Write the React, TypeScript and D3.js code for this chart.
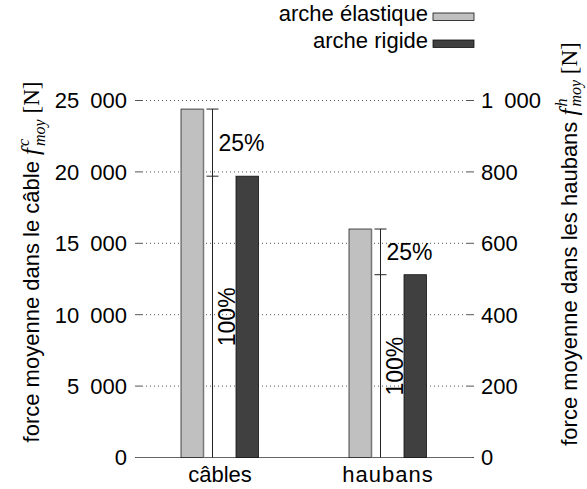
import { useMemo } from 'react';
import * as d3 from 'd3';

const categories = ['câbles', 'haubans'];
const seriesNames = ['arche élastique', 'arche rigide'];
const seriesColors = ['#c0c0c0', '#404040'];
// câbles on the left axis, haubans on the right axis (both in N)
const elasticValues = [24400, 640];
const rigidValues = [19700, 512];
const leftTicks = [0, 5000, 10000, 15000, 20000, 25000];
const rightTicks = [0, 200, 400, 600, 800, 1000];
const gapLabel = '25%';
const baseLabel = '100%';

const W = 587;
const H = 489;
const plot = { left: 136, right: 472, top: 100.5, bottom: 457.5 };
const sans = '"Liberation Sans", Arial, sans-serif';
const serif = '"Liberation Serif", "DejaVu Serif", serif';

const fmt = d3.formatLocale({ decimal: '.', thousands: '\u2002', grouping: [3], currency: ['', ''] }).format(',d');

const App = () => {
  const x = useMemo(() => d3.scaleBand<string>().domain(categories).range([plot.left, plot.right]).padding(0), []);
  const yLeft = useMemo(() => d3.scaleLinear().domain([0, 25000]).range([plot.bottom, plot.top]), []);
  const yRight = useMemo(() => d3.scaleLinear().domain([0, 1000]).range([plot.bottom, plot.top]), []);
  const scales = [yLeft, yRight];

  const barW = 22.5;

  return (
    <div style={{ position: 'absolute', left: 0, top: 0 }}>
      <svg width={W} height={H} style={{ display: 'block', background: '#fff' }}>
        {/* grid */}
        {leftTicks.filter(t => t > 0).map(t => (
          <line key={t} x1={plot.left + 6} x2={plot.right - 5} y1={yLeft(t)} y2={yLeft(t)}
            stroke="#555" strokeWidth={1} strokeDasharray="1,3" />
        ))}
        {/* left ticks */}
        {leftTicks.map(t => (
          <g key={t}>
            <line x1={plot.left - 1} x2={plot.left + 6} y1={yLeft(t)} y2={yLeft(t)} stroke="#555" />
            <text x={127} y={yLeft(t)} dy="0.36em" textAnchor="end" fontFamily={sans} fontSize={22}>{fmt(t)}</text>
          </g>
        ))}
        {/* right ticks */}
        {rightTicks.map(t => (
          <g key={t}>
            <line x1={plot.right - 5} x2={plot.right + 2} y1={yRight(t)} y2={yRight(t)} stroke="#555" />
            <text x={481} y={yRight(t)} dy="0.36em" textAnchor="start" fontFamily={sans} fontSize={22}>{fmt(t)}</text>
          </g>
        ))}
        <line x1={plot.left} x2={plot.right} y1={plot.bottom} y2={plot.bottom} stroke="#666" strokeWidth={1.2} />

        {categories.map((c, i) => {
          const cx = (x(c) || 0) + x.bandwidth() / 2;
          const y = scales[i];
          const top = y(elasticValues[i]);
          const mid = y(rigidValues[i]);
          const ex = cx - 7.5;
          return (
            <g key={c}>
              <rect x={cx - 39} y={top} width={barW} height={plot.bottom - top}
                fill={seriesColors[0]} stroke="#222" strokeWidth={0.8} />
              <line x1={cx - 39 + barW} x2={cx - 39 + barW} y1={top} y2={plot.bottom} stroke="#777" strokeWidth={1.5} />
              <rect x={cx + 16} y={mid} width={barW} height={plot.bottom - mid}
                fill={seriesColors[1]} stroke="#111" strokeWidth={0.8} />
              {/* percentage bracket */}
              <line x1={ex} x2={ex} y1={top} y2={plot.bottom} stroke="#222" strokeWidth={1} />
              <line x1={ex - 6} x2={ex + 6} y1={top} y2={top} stroke="#222" strokeWidth={1} />
              <line x1={ex - 6} x2={ex + 6} y1={mid} y2={mid} stroke="#222" strokeWidth={1} />
              <text x={ex + 6} y={(top + mid) / 2} dy="0.36em" fontFamily={sans} fontSize={23}>{gapLabel}</text>
              <text transform={`translate(${ex + 22},${(mid + plot.bottom) / 2}) rotate(-90)`}
                textAnchor="middle" fontFamily={sans} fontSize={23}>{baseLabel}</text>
              <text x={cx} y={482} textAnchor="middle" fontFamily={sans} fontSize={22} letterSpacing={i === 1 ? 1 : 0}>{c}</text>
            </g>
          );
        })}

        {/* legend */}
        {seriesNames.map((s, i) => (
          <g key={s} transform={`translate(0,${21 + i * 27})`}>
            <text x={428} y={0} textAnchor="end" fontFamily={sans} fontSize={22}>{s}</text>
            <rect x={433} y={-8} width={41} height={7.5} fill={seriesColors[i]} stroke="#111" strokeWidth={0.8} />
          </g>
        ))}

        {/* axis titles */}
        <text transform={`translate(39,262) rotate(-90)`} textAnchor="middle" fontFamily={sans} fontSize={22}>
          <tspan>force moyenne dans le câble </tspan>
          <tspan fontFamily={serif} fontStyle="italic" fontSize={25}>f</tspan>
          <tspan fontFamily={serif} fontStyle="italic" fontSize={16} dx={2} dy={-10}>c</tspan>
          <tspan fontFamily={serif} fontStyle="italic" fontSize={16} dy={16} dx={-7}>moy</tspan>
          <tspan fontFamily={serif} fontSize={23} dy={-6}> [N]</tspan>
        </text>
        <text transform={`translate(577,244) rotate(-90)`} textAnchor="middle" fontFamily={sans} fontSize={22}>
          <tspan>force moyenne dans les haubans </tspan>
          <tspan fontFamily={serif} fontStyle="italic" fontSize={25}>f</tspan>
          <tspan fontFamily={serif} fontStyle="italic" fontSize={16} dx={2} dy={-10}>h</tspan>
          <tspan fontFamily={serif} fontStyle="italic" fontSize={16} dy={14} dx={-8}>moy</tspan>
          <tspan fontFamily={serif} fontSize={23} dy={-4}> [N]</tspan>
        </text>
      </svg>
    </div>
  );
};

export default App;
